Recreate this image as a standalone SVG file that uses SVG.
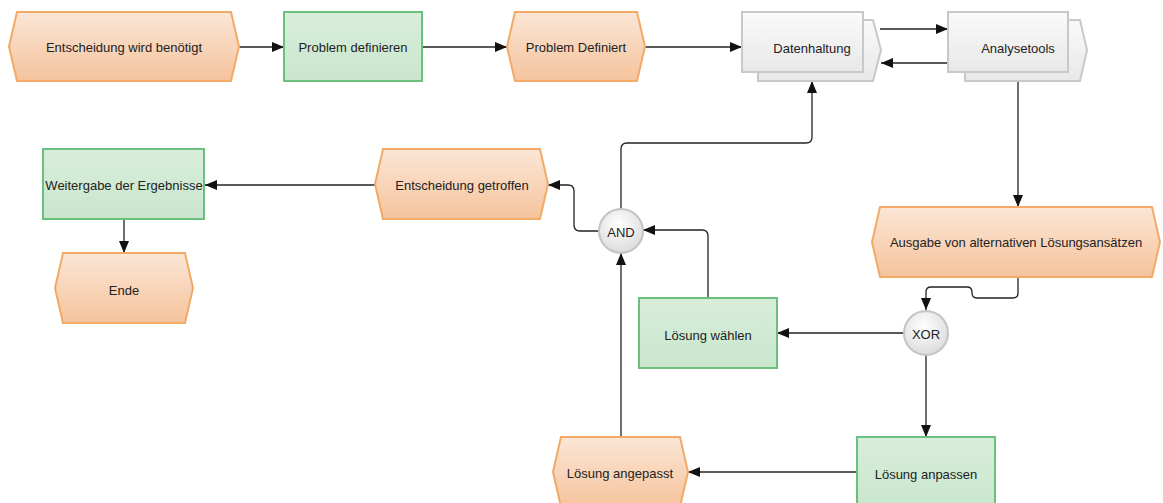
<svg xmlns="http://www.w3.org/2000/svg" width="1163" height="503" viewBox="0 0 1163 503">
  <defs>
    <linearGradient id="evtFill" x1="0" y1="0" x2="0" y2="1">
      <stop offset="0" stop-color="#fbe6d6"/>
      <stop offset="1" stop-color="#f5c39c"/>
    </linearGradient>
    <linearGradient id="fnFill" x1="0" y1="0" x2="0" y2="1">
      <stop offset="0" stop-color="#d8eedb"/>
      <stop offset="1" stop-color="#c9e6cd"/>
    </linearGradient>
    <linearGradient id="sysFill" x1="0" y1="0" x2="0" y2="1">
      <stop offset="0" stop-color="#fafafa"/>
      <stop offset="1" stop-color="#e8e8e8"/>
    </linearGradient>
    <radialGradient id="gateFill" cx="0.45" cy="0.35" r="0.7">
      <stop offset="0" stop-color="#ffffff"/>
      <stop offset="1" stop-color="#d9d9d9"/>
    </radialGradient>
    <marker id="arrow" viewBox="0 0 12 10" refX="12" refY="5" markerWidth="12" markerHeight="11" markerUnits="userSpaceOnUse" orient="auto">
      <path d="M0,0 L12,5 L0,10 Z" fill="#111"/>
    </marker>
  </defs>
  <style>
    .evt { fill: url(#evtFill); stroke: #f2aa66; stroke-width: 2; }
    .fn { fill: url(#fnFill); stroke: #6cc07e; stroke-width: 2; }
    .sys { fill: url(#sysFill); stroke: #c8c8c8; stroke-width: 2; }
    .gate { fill: url(#gateFill); stroke: #c4c4c4; stroke-width: 2; }
    .lbl { font-family: "Liberation Sans", Arial, sans-serif; font-size: 13px; fill: #222; text-anchor: middle; dominant-baseline: central; }
    .conn { fill: none; stroke: #222; stroke-width: 1.3; marker-end: url(#arrow); }
  </style>
  <rect width="1163" height="503" fill="#ffffff"/>

  <g id="connectors">
    <path class="conn" d="M239,47 H284"/>
    <path class="conn" d="M422,47 H507"/>
    <path class="conn" d="M645,47 H742"/>
    <path class="conn" d="M880,29 H948"/>
    <path class="conn" d="M948,63 H881"/>
    <path class="conn" d="M1018,81 V207"/>
    <path class="conn" d="M1018,277 V293 Q1018,298 1013,298 H977 Q972,298 972,293 V292 Q972,287 967,287 H931 Q926,287 926,292 V310"/>
    <path class="conn" d="M904,333 H777"/>
    <path class="conn" d="M926,355 V437"/>
    <path class="conn" d="M857,472 H688"/>
    <path class="conn" d="M621,437 V253"/>
    <path class="conn" d="M708,298 V236 Q708,230 702,230 H643"/>
    <path class="conn" d="M599,231 H580 Q574,231 574,225 V191 Q574,185 568,185 H548"/>
    <path class="conn" d="M621,209 V149 Q621,143 627,143 H806 Q812,143 812,137 V81"/>
    <path class="conn" d="M375,185 H205"/>
    <path class="conn" d="M124,219 V253"/>
  </g>

  <g id="evt-entscheidung-benoetigt">
    <path class="evt" d="M9,46.5 L17,12 H231 L239,46.5 L231,81 H17 Z"/>
    <text class="lbl" x="124" y="47">Entscheidung wird benötigt</text>
  </g>
  <g id="fn-problem-definieren">
    <rect class="fn" x="284" y="12" width="138" height="69"/>
    <text class="lbl" x="353" y="47">Problem definieren</text>
  </g>
  <g id="evt-problem-definiert">
    <path class="evt" d="M507,46.5 L515,12 H637 L645,46.5 L637,81 H515 Z"/>
    <text class="lbl" x="576" y="47">Problem Definiert</text>
  </g>
  <g id="sys-datenhaltung">
    <path class="sys" d="M758,20 H873 L881,50 L873,81 H758 Z"/>
    <rect class="sys" x="742" y="12" width="121" height="60"/>
    <text class="lbl" x="812" y="48">Datenhaltung</text>
  </g>
  <g id="sys-analysetools">
    <path class="sys" d="M965,20 H1080 L1087,50 L1080,81 H965 Z"/>
    <rect class="sys" x="948" y="12" width="120" height="60"/>
    <text class="lbl" x="1018" y="48">Analysetools</text>
  </g>
  <g id="evt-ausgabe">
    <path class="evt" d="M872,242 L880,207 H1152 L1160,242 L1152,277 H880 Z"/>
    <text class="lbl" x="1016" y="242">Ausgabe von alternativen Lösungsansätzen</text>
  </g>
  <g id="gate-xor">
    <circle class="gate" cx="926" cy="333" r="22"/>
    <text class="lbl" x="926" y="334">XOR</text>
  </g>
  <g id="fn-loesung-waehlen">
    <rect class="fn" x="639" y="298" width="138" height="70"/>
    <text class="lbl" x="708" y="335">Lösung wählen</text>
  </g>
  <g id="fn-loesung-anpassen">
    <rect class="fn" x="857" y="437" width="138" height="70"/>
    <text class="lbl" x="926" y="474">Lösung anpassen</text>
  </g>
  <g id="evt-loesung-angepasst">
    <path class="evt" d="M553,472 L561,437 H680 L688,472 L680,507 H561 Z"/>
    <text class="lbl" x="620" y="473">Lösung angepasst</text>
  </g>
  <g id="gate-and">
    <circle class="gate" cx="621" cy="231" r="22"/>
    <text class="lbl" x="621" y="232">AND</text>
  </g>
  <g id="evt-entscheidung-getroffen">
    <path class="evt" d="M375,184 L383,149 H540 L548,184 L540,219 H383 Z"/>
    <text class="lbl" x="462" y="185">Entscheidung getroffen</text>
  </g>
  <g id="fn-weitergabe">
    <rect class="fn" x="43" y="149" width="161" height="70"/>
    <text class="lbl" x="124" y="185">Weitergabe der Ergebnisse</text>
  </g>
  <g id="evt-ende">
    <path class="evt" d="M55,288 L63,253 H185 L193,288 L185,323 H63 Z"/>
    <text class="lbl" x="124" y="290">Ende</text>
  </g>
</svg>
